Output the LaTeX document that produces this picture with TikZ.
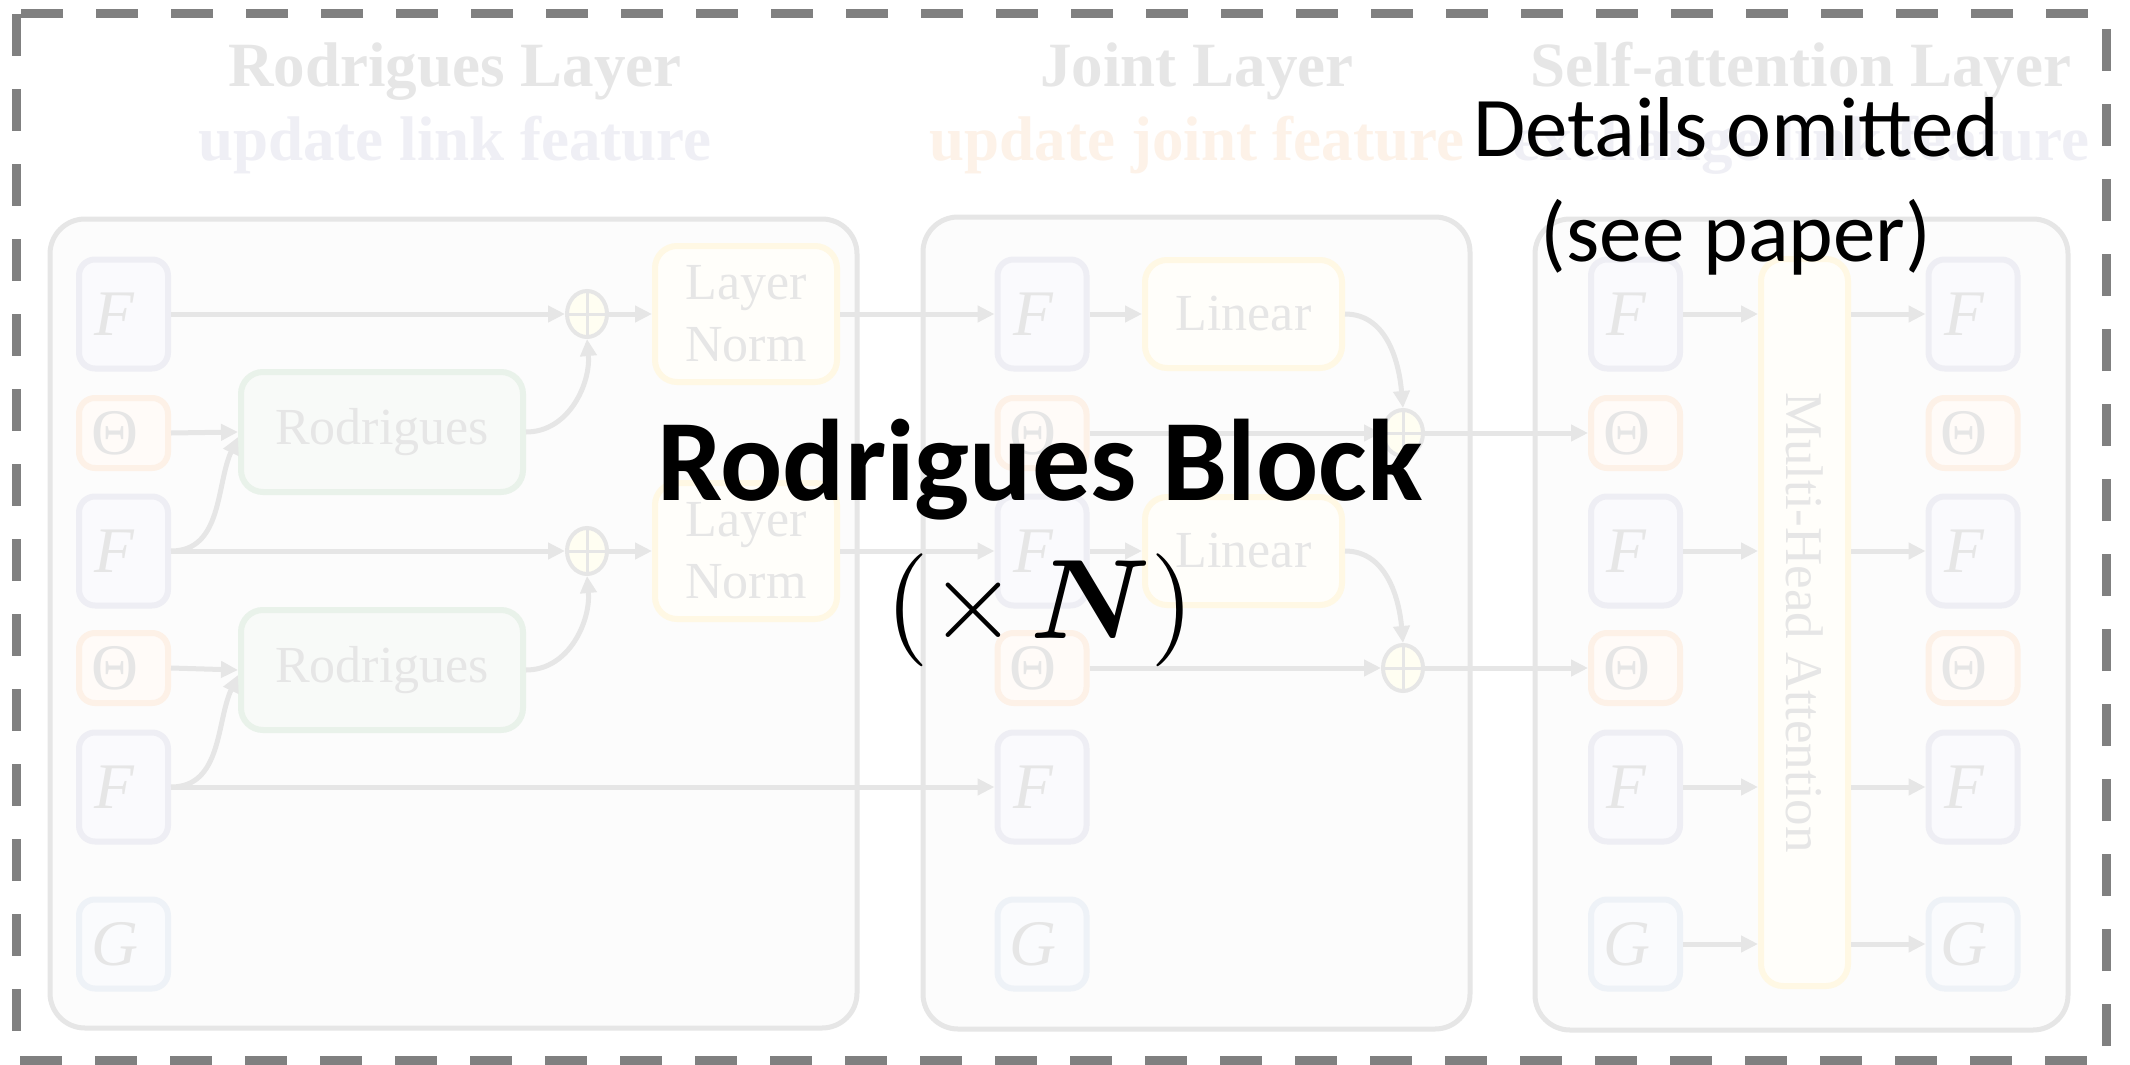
\documentclass[tikz,border=0pt]{standalone}
\usepackage{amsmath}
\usepackage{fontspec}
\setmainfont{Liberation Serif}
\newfontfamily\calib{Carlito}
\usetikzlibrary{arrows.meta,shapes.geometric}
\newcommand\fsz[1]{\fontsize{#1}{#1}\selectfont}
\definecolor{lg}{HTML}{E6E6E6}
\definecolor{pbd}{HTML}{E6E6E6}
\definecolor{pfl}{HTML}{FCFCFC}
\definecolor{fbd}{HTML}{EEEEF4}
\definecolor{ffl}{HTML}{FAFAFD}
\definecolor{tbd}{HTML}{FDF1E7}
\definecolor{tfl}{HTML}{FFFBF8}
\definecolor{gbd}{HTML}{EEF2F7}
\definecolor{gfl}{HTML}{FAFBFD}
\definecolor{rbd}{HTML}{E9F2EA}
\definecolor{rfl}{HTML}{F8FAF8}
\definecolor{ybd}{HTML}{FFF8E4}
\definecolor{yfl}{HTML}{FFFEFA}
\definecolor{ofl}{HTML}{FFFEF2}
\definecolor{lav}{HTML}{EFEFF5}
\definecolor{ora}{HTML}{FDF2E8}
\definecolor{dashc}{HTML}{808080}
\begin{document}
\begin{tikzpicture}[x=1pt,y=-1pt,
  panel/.style={draw=pbd,fill=pfl,line width=5pt,rounded corners=35pt},
  hdr/.style={anchor=base,text=lg,font=\fsz{63}\bfseries,inner sep=0pt},
  sub/.style={anchor=base,font=\fsz{63}\bfseries,inner sep=0pt},
  sbox/.style={line width=6pt,rounded corners=16pt,minimum width=89pt,inner sep=0pt,text=lg,font=\fsz{65},
    execute at begin node=\kern-18pt},
  fbx/.style={sbox,draw=fbd,fill=ffl,minimum height=109pt,font=\fsz{65}\itshape},
  tbx/.style={sbox,draw=tbd,fill=tfl,minimum height=70pt},
  gbx/.style={sbox,draw=gbd,fill=gfl,minimum height=89pt,font=\fsz{65}\itshape},
  rbx/.style={draw=rbd,fill=rfl,line width=6pt,rounded corners=22pt,minimum width=282pt,minimum height=120pt,inner sep=0pt,text=lg,font=\fsz{52}},
  ybx/.style={draw=ybd,fill=yfl,line width=6pt,rounded corners=22pt,inner sep=0pt,text=lg,font=\fontsize{52}{62}\selectfont,align=center},
  opl/.style={ellipse,draw=lg,fill=ofl,line width=4pt,minimum width=40pt,minimum height=46pt,inner sep=0pt,
    path picture={\draw[line width=3pt,lg] (path picture bounding box.north) -- (path picture bounding box.south)
      (path picture bounding box.west) -- (path picture bounding box.east);}},
  arr/.style={draw=lg,line width=5pt,-{Triangle[length=17pt,width=16pt]}},
  big/.style={inner sep=0pt,anchor=base,text=black}
]
\useasboundingbox (0,0) rectangle (2130,1065);
\fill[white] (0,0) rectangle (2130,1065);
% outer dashed frame
\draw[dashc,line width=9pt,dash pattern=on 42pt off 33pt] (16,14) rectangle (2106,1060);

% panels
\draw[panel] (50,219) rectangle (857,1028);
\draw[panel] (923,217) rectangle (1470,1029);
\draw[panel] (1535,219) rectangle (2068,1030);

% headers
\node[hdr] (h1) at (455,86) {Rodrigues Layer};
\node[sub,text=lav] (s1) at (455,160) {update link feature};
\node[hdr] (h2) at (1197,86) {Joint Layer};
\node[sub,text=ora] (s2) at (1197,160) {update joint feature};
\node[hdr] (h3) at (1801,86) {Self-attention Layer};
\node[sub,text=lav] (s3) at (1801,160) {exchange link feature};

% panel 1 column
\node[fbx] (a1) at (123.5,314) {F};
\node[tbx] (a2) at (123.5,433) {Θ};
\node[fbx] (a3) at (123.5,551) {F};
\node[tbx] (a4) at (123.5,668) {Θ};
\node[fbx] (a5) at (123.5,787) {F};
\node[gbx] (a6) at (123.5,944) {G};
\node[rbx] (rod1) at (382,432) {Rodrigues};
\node[rbx] (rod2) at (382,670) {Rodrigues};
\node[opl] (op1) at (587,314) {};
\node[opl] (op3) at (587,551) {};
\node[ybx,minimum width=182pt,minimum height=136pt] (ln1) at (746,314) {Layer\\Norm};
\node[ybx,minimum width=182pt,minimum height=136pt] (ln2) at (746,551) {Layer\\Norm};

% panel 2 column
\node[fbx] (b1) at (1042,314) {F};
\node[tbx] (b2) at (1042,433) {Θ};
\node[fbx] (b3) at (1042,551) {F};
\node[tbx] (b4) at (1042,668) {Θ};
\node[fbx] (b5) at (1042,787) {F};
\node[gbx] (b6) at (1042,944) {G};
\node[ybx,minimum width=197pt,minimum height=108pt] (lin1) at (1243.5,314) {Linear};
\node[ybx,minimum width=197pt,minimum height=108pt] (lin2) at (1243.5,551) {Linear};
\node[opl] (op2) at (1403,433) {};
\node[opl] (op4) at (1403,668) {};

% panel 3
\node[fbx] (c1) at (1635.5,314) {F};
\node[tbx] (c2) at (1635.5,433) {Θ};
\node[fbx] (c3) at (1635.5,551) {F};
\node[tbx] (c4) at (1635.5,668) {Θ};
\node[fbx] (c5) at (1635.5,787) {F};
\node[gbx] (c6) at (1635.5,944) {G};
\node[ybx,minimum width=87pt,minimum height=727pt] (mha) at (1804.5,622.5) {};
\node[rotate=-90,text=lg,font=\fsz{53},inner sep=0pt] (mhat) at (mha.center) {Multi-Head Attention};
\node[fbx] (d1) at (1973,314) {F};
\node[tbx] (d2) at (1973,433) {Θ};
\node[fbx] (d3) at (1973,551) {F};
\node[tbx] (d4) at (1973,668) {Θ};
\node[fbx] (d5) at (1973,787) {F};
\node[gbx] (d6) at (1973,944) {G};

% connectors panel 1
\draw[arr] (a1.east) -- (op1.west);
\draw[arr] (op1.east) -- (ln1.west);
\draw[arr] (a2.east) -- (rod1.west);
\draw[arr] (a3.east) to[out=0,in=245] ([yshift=-5pt]rod1.west);
\draw[arr] (rod1.east) to[out=0,in=-85] (op1.south);
\draw[arr] (a3.east) -- (op3.west);
\draw[arr] (op3.east) -- (ln2.west);
\draw[arr] (a4.east) -- (rod2.west);
\draw[arr] (a5.east) to[out=0,in=245] ([yshift=-5pt]rod2.west);
\draw[arr] (rod2.east) to[out=0,in=-85] (op3.south);
\draw[arr] (a5.east) -- (b5.west);
\draw[arr] (ln1.east) -- (b1.west);
\draw[arr] (ln2.east) -- (b3.west);

% connectors panel 2
\draw[arr] (b1.east) -- (lin1.west);
\draw[arr] (lin1.east) to[out=0,in=95] (op2.north);
\draw[arr] (b2.east) -- (op2.west);
\draw[arr] (op2.east) -- (c2.west);
\draw[arr] (b3.east) -- (lin2.west);
\draw[arr] (lin2.east) to[out=0,in=95] (op4.north);
\draw[arr] (b4.east) -- (op4.west);
\draw[arr] (op4.east) -- (c4.west);

% connectors panel 3
\foreach \i in {1,3,5,6}{
  \draw[arr] (c\i.east) -- (c\i.east -| mha.west);
  \draw[arr] (d\i.west -| mha.east) -- (d\i.west);
}

% overlay text
\node[big,font=\calib\fsz{116}\bfseries] (blk) at (1040,500) {Rodrigues Block};
\node[big] (xn) at (1040,638) {\scalebox{11.3}{$(\times\mkern2mu\boldsymbol{N})$}};
\node[big,font=\calib\fsz{85}] (det) at (1736,156) {Details omitted};
\node[big,font=\calib\fsz{85}] (see) at (1736,261) {(see paper)};
\end{tikzpicture}
\end{document}
